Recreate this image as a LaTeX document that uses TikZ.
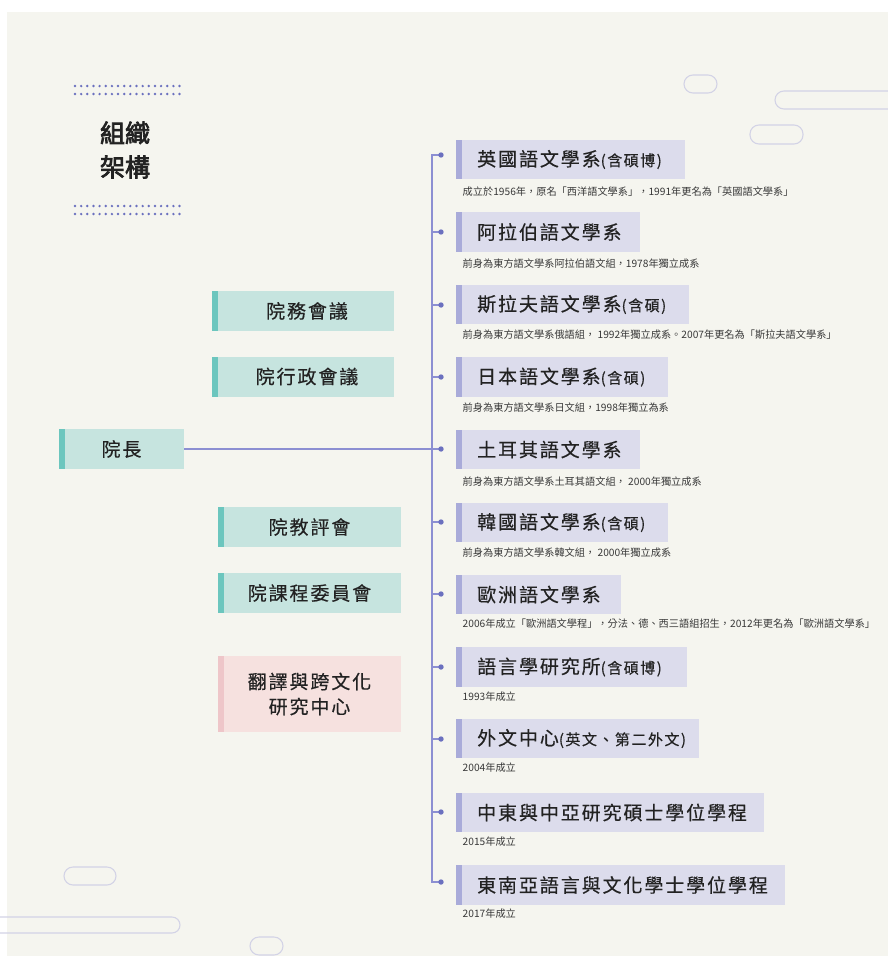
\documentclass[tikz,border=0pt]{standalone}
\usepackage{fontspec}
\newfontfamily\cjk{Noto Sans CJK TC}
\newfontfamily\cjkw[LetterSpace=10,FakeBold=0.4]{Noto Sans CJK TC}
\newfontfamily\cjkb[FakeBold=3]{Noto Sans CJK TC}
\definecolor{bg}{HTML}{F5F5EF}
\definecolor{lavfill}{HTML}{DCDCEC}
\definecolor{lavbar}{HTML}{A9ABD9}
\definecolor{tealfill}{HTML}{C6E4DF}
\definecolor{tealbar}{HTML}{6CC6BE}
\definecolor{pinkfill}{HTML}{F6E1DF}
\definecolor{pinkbar}{HTML}{EEC6C9}
\definecolor{linec}{HTML}{8C8FD2}
\definecolor{dotc}{HTML}{6B70BF}
\definecolor{pillc}{HTML}{D3D3E6}
\definecolor{txt}{HTML}{222222}
\newcommand\smpar[1]{{\fontsize{15}{15}\selectfont #1}}
\tikzset{
  deptbox/.style={fill=lavfill, draw=none, minimum height=39.5pt, inner sep=0pt, anchor=west,
    path picture={\fill[lavbar] (path picture bounding box.north west) rectangle ([xshift=5.5pt]path picture bounding box.south west);}},
  depttext/.style={font=\cjkw\fontsize{19}{22}\selectfont, text=txt, inner sep=0pt, anchor=west},
  subtext/.style={font=\cjk\fontsize{10.2}{12}\selectfont, text=txt!90, inner sep=0pt, anchor=west},
  tealbox/.style={fill=tealfill, draw=none, minimum height=40pt, inner sep=0pt, text=txt,
    font=\cjkw\fontsize{19}{22}\selectfont,
    path picture={\fill[tealbar] (path picture bounding box.north west) rectangle ([xshift=6pt]path picture bounding box.south west);}},
  pinkbox/.style={fill=pinkfill, draw=none, minimum height=76pt, inner sep=0pt, text=txt, align=center,
    font=\cjkw\fontsize{19}{25}\selectfont,
    path picture={\fill[pinkbar] (path picture bounding box.north west) rectangle ([xshift=6pt]path picture bounding box.south west);}},
  conn/.style={draw=linec, line width=1.1pt},
  pill/.style={draw=pillc, line width=1.1pt},
}
% #1 name, #2 box center y, #3 right x, #4 dot y, #5 sub y, #6 main text, #7 sub text
\newcommand\deptrow[7]{%
  \node[deptbox, minimum width={#3-456}] (#1) at (456,#2) {};
  \node[depttext] (#1t) at (477,#2) {#6};
  \node[subtext] (#1s) at (462.5,#5) {#7};
  \coordinate (#1d) at (441,#4);
}
\begin{document}
\begin{tikzpicture}[x=1pt,y=-1pt]
\useasboundingbox (0,0) rectangle (888,956);
\fill[white] (0,0) rectangle (888,956);
\fill[bg] (7,12) rectangle (888,956);
% decorative pills
\draw[pill, rounded corners=9pt] (684,75) rectangle (717,93);
\draw[pill, rounded corners=9pt] (775,91) rectangle (920,109);
\draw[pill, rounded corners=9pt] (750,125) rectangle (803,144);
\draw[pill, rounded corners=9pt] (64,867) rectangle (116,885);
\draw[pill, rounded corners=8pt] (-30,917) rectangle (180,933);
\draw[pill, rounded corners=9pt] (250,937) rectangle (283,955);
% dotted rules
\foreach \yy in {86,94,206,214}{
  \foreach \i in {0,...,17}{
    \fill[dotc] ({75+\i*6.15},\yy) circle (1.35);
  }
}
% title
\node[font=\cjkb\fontsize{25}{34}\selectfont, align=center, text=txt, inner sep=0pt] (title) at (125,150) {組織\\架構};
% departments
\deptrow{b1}{159.5}{685}{155}{192}{英國語文學系\smpar{(含碩博)}}{成立於1956年，原名「西洋語文學系」，1991年更名為「英國語文學系」}
\deptrow{b2}{232}{640}{232}{264}{阿拉伯語文學系}{前身為東方語文學系阿拉伯語文組，1978年獨立成系}
\deptrow{b3}{304.5}{689}{305}{335}{斯拉夫語文學系\smpar{(含碩)}}{前身為東方語文學系俄語組， 1992年獨立成系。2007年更名為「斯拉夫語文學系」}
\deptrow{b4}{377}{668}{377}{408}{日本語文學系\smpar{(含碩)}}{前身為東方語文學系日文組，1998年獨立為系}
\deptrow{b5}{449.5}{640}{449}{482}{土耳其語文學系}{前身為東方語文學系土耳其語文組， 2000年獨立成系}
\deptrow{b6}{522.5}{668}{522}{553}{韓國語文學系\smpar{(含碩)}}{前身為東方語文學系韓文組， 2000年獨立成系}
\deptrow{b7}{594.5}{621}{594}{624}{歐洲語文學系}{2006年成立「歐洲語文學程」，分法、德、西三語組招生，2012年更名為「歐洲語文學系」}
\deptrow{b8}{667}{687}{667}{697}{語言學研究所\smpar{(含碩博)}}{1993年成立}
\deptrow{b9}{738.5}{699}{739}{768}{外文中心\smpar{(英文、第二外文)}}{2004年成立}
\deptrow{b10}{812.5}{764}{812}{842}{中東與中亞研究碩士學位學程}{2015年成立}
\deptrow{b11}{885}{785}{882}{914}{東南亞語言與文化學士學位學程}{2017年成立}
% left boxes
\node[tealbox, minimum width=125pt] (dean) at (121.5,449) {院長};
\node[tealbox, minimum width=182pt] (c1) at (303,311) {\hspace*{8pt}院務會議};
\node[tealbox, minimum width=182pt] (c2) at (303,376.5) {\hspace*{8pt}院行政會議};
\node[tealbox, minimum width=183pt] (c3) at (309.5,527) {院教評會};
\node[tealbox, minimum width=183pt] (c4) at (309.5,593) {院課程委員會};
\node[pinkbox, minimum width=183pt] (c5) at (309.5,694) {翻譯與跨文化\\研究中心};
% connectors
\coordinate (spine) at (432,0);
\draw[conn] (b1d) -- (b1d -| spine) -- (b11d -| spine) -- (b11d);
\foreach \k in {b2d,b3d,b4d,b5d,b6d,b7d,b8d,b9d,b10d}{
  \draw[conn] (\k -| spine) -- (\k);
}
\draw[conn] (dean.east) -- (b5d);
\foreach \k in {b1d,b2d,b3d,b4d,b5d,b6d,b7d,b8d,b9d,b10d,b11d}{
  \fill[dotc] (\k) circle (2.7);
}
\end{tikzpicture}
\end{document}
